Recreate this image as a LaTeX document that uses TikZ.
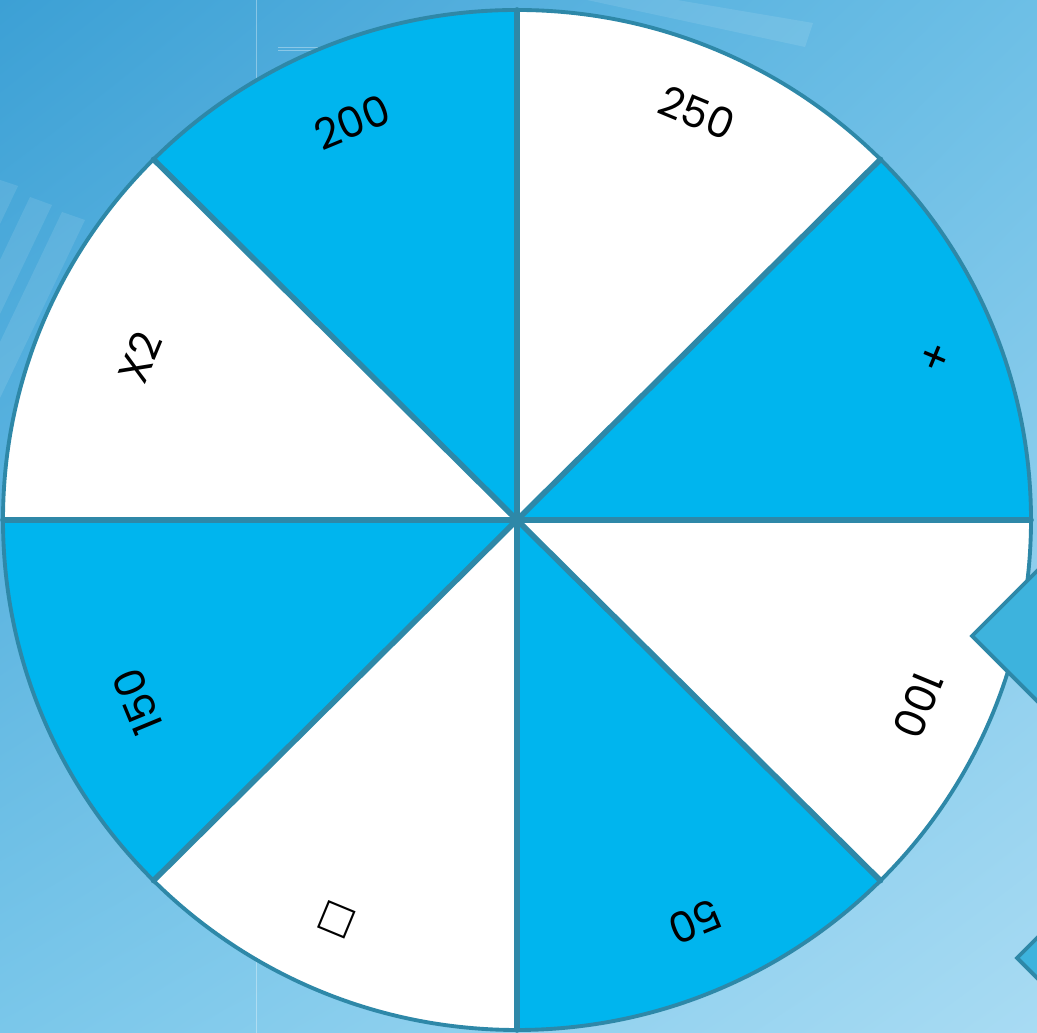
\documentclass[tikz,border=0pt]{standalone}
\usepackage{fontspec}
\usetikzlibrary{shadings}
\setmainfont{Poppins}
\newfontfamily\symfont{DejaVu Sans}
\definecolor{bgTL}{HTML}{3CA0D5}
\definecolor{bgTR}{HTML}{6DBFE6}
\definecolor{bgBL}{HTML}{7AC7EA}
\definecolor{bgBR}{HTML}{A8DBF3}
\definecolor{wblue}{HTML}{00B5EE}
\definecolor{rimc}{HTML}{2E88A8}
\definecolor{ptrfill}{HTML}{3DB3DD}
\tikzset{
  spoke/.style={draw=rimc, line width=3.2pt, line cap=round},
  rim/.style={draw=rimc, line width=2.2pt},
  deco/.style={fill=white, fill opacity=0.10},
  faintline/.style={draw=white, draw opacity=0.35, line width=0.5pt},
  pointer/.style={fill=ptrfill, draw=rimc, line width=2.2pt, line join=miter},
  lbl/.style={font=\fontsize{24}{28}\selectfont, text=black, inner sep=0pt},
}
\begin{document}
\begin{tikzpicture}[x=0.02cm, y=0.02cm]
\useasboundingbox (0,0) rectangle (1037,1033);
\clip (0,0) rectangle (1037,1033);
% background
\shade[upper left=bgTL, upper right=bgTR, lower left=bgBL, lower right=bgBR] (0,0) rectangle (1037,1033);
% decorative stripes
\fill[deco] (0,853) -- (18,847) -- (0,809) -- cycle;
\fill[deco] (30,836) -- (52,828) -- (0,719) -- (0,773) -- cycle;
\fill[deco] (62,821) -- (85,813) -- (0,635) -- (0,691) -- cycle;
\fill[deco] (587,1033) -- (677,1033) -- (813,1010) -- (805,986) -- cycle;
\draw[faintline] (256,0) -- (256,1033);
\draw[faintline] (278,986) -- (318,986);
\draw[faintline] (278,983) -- (318,983);
% wheel
\coordinate (C) at (517,513);
\fill[white] (C) ellipse [x radius=514, y radius=510];
\foreach \a in {0,90,180,270}
  \fill[wblue] (C) -- ([shift={(C)}]\a:514 and 510) arc[start angle=\a, end angle=\a+45, x radius=514, y radius=510] -- cycle;
\foreach \a in {0,45,...,315}
  \draw[spoke] (C) -- ([shift={(C)}]\a:514 and 510);
\draw[rim] (C) ellipse [x radius=514, y radius=510];
% labels
\node[lbl, rotate=22.5] (l200) at (352,911) {200};
\node[lbl, rotate=-22.5] (l250) at (697,920) {250};
\node[lbl, rotate=-67.5] (lx) at (932,675) {×};
\node[lbl, rotate=-112.5] (l100) at (918,328) {100};
\node[lbl, rotate=-157.5] (l50) at (695,111) {50};
\node[lbl, rotate=157.5, font=\symfont\fontsize{22}{26}\selectfont] (lsq) at (337,113) {□};
\node[lbl, rotate=112.5] (l150) at (138,331) {150};
\node[lbl, rotate=67.5] (lx2) at (140,676) {X2};
% pointers
\draw[pointer] (972,397) -- (1040,465) -- (1108,397) -- (1040,329) -- cycle;
\draw[pointer] (1017,75) -- (1057,115) -- (1097,75) -- (1057,35) -- cycle;
\end{tikzpicture}
\end{document}
